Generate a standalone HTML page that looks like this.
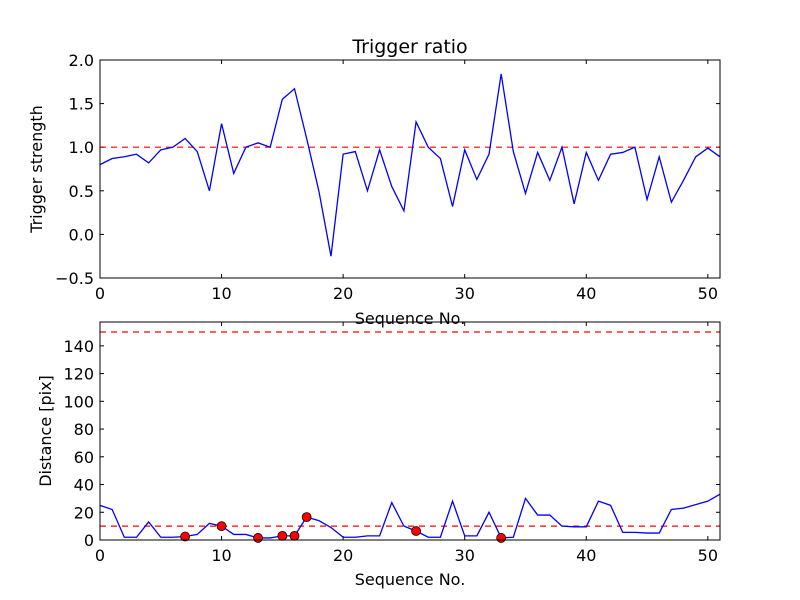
<!DOCTYPE html>
<html><head><meta charset="utf-8"><style>
body{margin:0;background:#fff}
svg{display:block;font-family:"DejaVu Sans","Liberation Sans",sans-serif}
</style></head><body>
<svg id="chart" width="800" height="600" viewBox="0 0 800 600" xmlns="http://www.w3.org/2000/svg">
<rect width="800" height="600" fill="#fff"/>
</svg>
<script>
const xTicks=[0,10,20,30,40,50];
const topTicks=[-0.5,0.0,0.5,1.0,1.5,2.0];
const topTickLabels=["\u22120.5","0.0","0.5","1.0","1.5","2.0"];
const botTicks=[0,20,40,60,80,100,120,140];
const strength=[0.80,0.87,0.89,0.92,0.82,0.97,1.0,1.10,0.95,0.50,1.27,0.70,1.0,1.05,1.0,1.55,1.67,1.1,0.5,-0.25,0.92,0.95,0.50,0.97,0.55,0.27,1.29,1.0,0.87,0.32,0.97,0.63,0.92,1.84,0.95,0.47,0.94,0.62,1.0,0.35,0.94,0.62,0.92,0.94,1.0,0.40,0.89,0.37,0.62,0.89,0.99,0.89];
const distance=[25,22,2,2,13,2,2,2.5,4,12,10,4,4,1.5,1.5,3,3,16.5,14,9,2,2,3,3,27,10,6.5,2,2,28,3,3,20,1.5,2,30,18,18,10,9.5,9.5,28,25,5.5,5.5,5,5,22,23,25.5,28,33];
const markerIdx=[7,10,13,15,16,17,26,33];
const strengthThreshold=1.0;
const distThresholds=[10,150];

const NS="http://www.w3.org/2000/svg";
const svg=document.getElementById('chart');
function el(t,a,p){const e=document.createElementNS(NS,t);for(const k in a)e.setAttribute(k,a[k]);(p||svg).appendChild(e);return e;}
const L=100,R=720;
const xs=v=>L+(v-0)/(51-0)*(R-L);
function panel(top,bot,ymin,ymax){
  return v=>bot-(v-ymin)/(ymax-ymin)*(bot-top);
}
const ysT=panel(60,278,-0.5,2.0);
const ysB=panel(322,540,0,157.2);

function drawAxes(top,bot,ys,yt,ytl,name){
  const g=el('g',{});
  
  
  xTicks.forEach(v=>{
    el('line',{x1:xs(v),x2:xs(v),y1:bot,y2:bot-4,stroke:'#000'},g);
    el('line',{x1:xs(v),x2:xs(v),y1:top,y2:top+4,stroke:'#000'},g);
    const t=el('text',{x:xs(v),y:bot+21,'font-size':'16','text-anchor':'middle',fill:'#000'},g);
    t.textContent=v;
    
    
  });
  yt.forEach((v,i)=>{
    el('line',{x1:L,x2:L+4,y1:ys(v),y2:ys(v),stroke:'#000'},g);
    el('line',{x1:R,x2:R-4,y1:ys(v),y2:ys(v),stroke:'#000'},g);
    const t=el('text',{x:L-6,y:ys(v)+6,'font-size':'16','text-anchor':'end',fill:'#000'},g);
    t.textContent=ytl?ytl[i]:v;
    
    
  });
}
function frame(top,bot,name){
  const r=el('rect',{x:L,y:top,width:R-L,height:bot-top,fill:'none',stroke:'#000','stroke-width':1});
  
  
}
drawAxes(60,278,ysT,topTicks,topTickLabels,'top');
const th=el('line',{x1:L,x2:R,y1:ysT(strengthThreshold),y2:ysT(strengthThreshold),stroke:'#f00','stroke-width':1.2,'stroke-dasharray':'6,5'});


const p1=el('polyline',{points:strength.map((v,i)=>xs(i)+','+ysT(v)).join(' '),fill:'none',stroke:'#00f','stroke-width':1.3});


frame(60,278,'top');
drawAxes(322,540,ysB,botTicks,null,'bottom');
distThresholds.forEach(v=>{
  const l=el('line',{x1:L,x2:R,y1:ysB(v),y2:ysB(v),stroke:'#f00','stroke-width':1.2,'stroke-dasharray':'6,5'});
  
  
});
const p2=el('polyline',{points:distance.map((v,i)=>xs(i)+','+ysB(v)).join(' '),fill:'none',stroke:'#00f','stroke-width':1.3});


markerIdx.forEach(i=>{
  const c=el('circle',{cx:xs(i),cy:ysB(distance[i]),r:4.5,fill:'#f00',stroke:'#000','stroke-width':0.8});
  
  
});
frame(322,540,'bottom');
function txt(x,y,s,size,name,rot){
  const t=el('text',{x:x,y:y,'font-size':size,'text-anchor':'middle',fill:'#000'});
  if(rot)t.setAttribute('transform','rotate(-90 '+x+' '+y+')');
  t.textContent=s;
  
  
}
txt(410,53,'Trigger ratio',19,'chart-title');
txt(410,324,'Sequence No.',16,'top-x-axis-title');
txt(410,585,'Sequence No.',16,'bottom-x-axis-title');
txt(42,169,'Trigger strength',16,'top-y-axis-title',true);
txt(51,431,'Distance [pix]',16,'bottom-y-axis-title',true);
</script>
</body></html>
